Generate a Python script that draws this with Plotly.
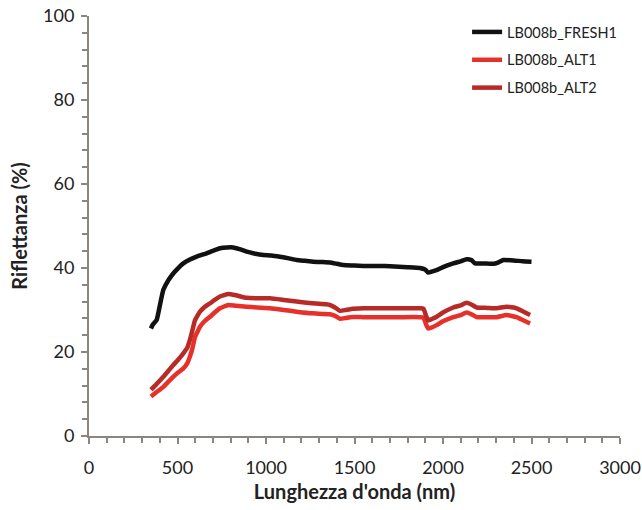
import plotly.graph_objects as go

wl_fresh = [350, 360, 382, 400, 420, 450, 476, 500, 533, 570, 608, 664, 700, 740, 780, 815, 850, 891,
            940, 985, 1030, 1079, 1130, 1173, 1220, 1267, 1320, 1361, 1400, 1437, 1500, 1550, 1600, 1644,
            1700, 1750, 1800, 1870, 1900, 1917, 1940, 1964, 2000, 2058, 2100, 2133, 2160, 2181, 2230,
            2285, 2310, 2341, 2400, 2450, 2500]
fresh1 = [25.6, 26.5, 27.6, 31.0, 34.8, 37.2, 38.7, 39.8, 41.1, 42.0, 42.7, 43.5, 44.1, 44.7, 44.9, 44.9,
          44.5, 43.9, 43.4, 43.1, 43.0, 42.7, 42.3, 41.9, 41.7, 41.5, 41.4, 41.3, 41.0, 40.7, 40.6, 40.5,
          40.5, 40.5, 40.4, 40.3, 40.2, 40.0, 39.6, 38.9, 39.2, 39.5, 40.2, 41.1, 41.6, 42.1, 41.9, 41.1,
          41.1, 41.0, 41.3, 41.9, 41.8, 41.6, 41.5]

wl_alt = [350, 380, 420, 450, 476, 500, 533, 555, 570, 585, 599, 615, 627, 650, 684, 710, 740, 787, 830,
          891, 950, 1023, 1100, 1173, 1260, 1361, 1390, 1418, 1450, 1475, 1550, 1644, 1750, 1870, 1890,
          1905, 1917, 1940, 1964, 2000, 2058, 2100, 2133, 2160, 2190, 2250, 2303, 2360, 2416, 2450, 2492]
alt1 = [9.4, 10.4, 11.7, 13.0, 14.1, 15.0, 16.1, 17.3, 18.9, 21.0, 23.6, 25.0, 26.0, 27.2, 28.4, 29.4,
        30.4, 31.2, 31.0, 30.8, 30.6, 30.4, 30.0, 29.6, 29.2, 29.0, 28.6, 27.9, 28.1, 28.3, 28.3, 28.3,
        28.3, 28.3, 28.2, 26.5, 25.6, 25.9, 26.4, 27.3, 28.3, 28.8, 29.4, 29.0, 28.3, 28.3, 28.3, 28.8,
        28.3, 27.6, 26.8]
alt2 = [11.0, 12.3, 14.1, 15.6, 16.9, 18.0, 19.7, 21.0, 22.9, 25.3, 27.6, 28.8, 29.6, 30.6, 31.6, 32.4,
        33.2, 33.8, 33.5, 32.9, 32.8, 32.8, 32.4, 32.0, 31.6, 31.2, 30.6, 29.8, 30.0, 30.2, 30.4, 30.4,
        30.4, 30.4, 30.3, 28.5, 27.5, 27.9, 28.4, 29.4, 30.6, 31.1, 31.7, 31.3, 30.6, 30.5, 30.4, 30.8,
        30.4, 29.7, 28.8]

names = ["LB008b_FRESH1", "LB008b_ALT1", "LB008b_ALT2"]
colors = ["#111111", "#e8302a", "#b82a26"]

FONT = "Lato, Open Sans, sans-serif"
AX = "#8c8682"
TXT = "#222222"

fig = go.Figure()
for x, y, n, c in [(wl_fresh, fresh1, names[0], colors[0]),
                   (wl_alt, alt1, names[1], colors[1]),
                   (wl_alt, alt2, names[2], colors[2])]:
    fig.add_trace(go.Scatter(x=x, y=y, mode="lines", name=n, legendgroup=n,
                             line=dict(color=c, width=4.5, shape="spline", smoothing=0.4)))

fig.update_layout(
    width=642, height=510,
    margin=dict(l=89, r=22, t=16, b=74, autoexpand=False),
    paper_bgcolor="white", plot_bgcolor="white",
    font=dict(family=FONT, color=TXT),
    showlegend=True,
    legend=dict(x=0.712, y=1.0, xanchor="left", yanchor="top",
                font=dict(size=14.5, family=FONT, color=TXT),
                tracegroupgap=6, bgcolor="rgba(0,0,0,0)", itemwidth=30),
    xaxis=dict(range=[0, 3000], dtick=500, tick0=0, showgrid=False, zeroline=False,
               showline=True, linecolor=AX, linewidth=2, automargin=False,
               ticks="outside", ticklen=6, tickcolor=AX, tickwidth=2, ticklabelstandoff=8,
               ticklabeloverflow="allow",
               minor=dict(dtick=100, ticks="outside", ticklen=5, tickcolor=AX, tickwidth=1.5),
               tickfont=dict(size=18, family=FONT, color=TXT),
               title=dict(text="<b>Lunghezza d'onda (nm)</b>", font=dict(size=20, family=FONT, color=TXT),
                          standoff=8)),
    yaxis=dict(range=[0, 100], dtick=20, tick0=0, showgrid=False, zeroline=False,
               showline=True, linecolor=AX, linewidth=2, automargin=False,
               ticks="outside", ticklen=6, tickcolor=AX, tickwidth=2, ticklabelstandoff=3,
               ticklabeloverflow="allow",
               minor=dict(dtick=4, ticks="outside", ticklen=5, tickcolor=AX, tickwidth=1.5),
               tickfont=dict(size=18, family=FONT, color=TXT),
               title=dict(text="<b>Riflettanza (%)</b>", font=dict(size=20, family=FONT, color=TXT),
                          standoff=10)),
)

fig.write_html("out.html", config={"displayModeBar": False},
               post_script="document.body.style.margin='0';")
